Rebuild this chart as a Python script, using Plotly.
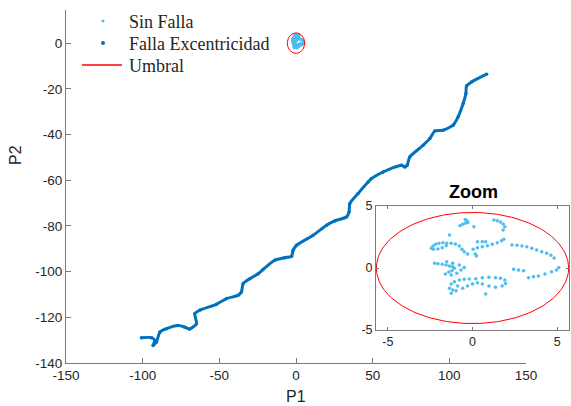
import numpy as np
import plotly.graph_objects as go

# ---------------- data ----------------
falla_p1 = [-100.8, -94.3, -92.1, -93.2, -91.0, -88.8, -84.5, -76.9, -72.5, -69.3,
            -64.9, -66.0, -62.8, -51.9, -45.3, -37.8, -35.6, -34.5, -30.1, -24.7,
            -21.5, -13.8, -7.3, -2.9, -1.9, 0.3, 11.2, 19.9, 25.3, 32.9,
            34.6, 35.1, 40.5, 47.0, 49.2, 56.8, 68.8, 71.0, 72.5, 74.2,
            82.9, 87.3, 90.5, 96.0, 102.5, 105.7, 109.0, 110.8, 111.2, 114.5, 124.3]
falla_p2 = [-128.9, -128.9, -130.1, -132.3, -130.8, -126.5, -125.0, -123.6, -124.3, -125.1,
            -122.8, -118.4, -116.9, -114.3, -111.8, -110.4, -108.9, -105.3, -103.1, -100.9,
            -99.1, -95.0, -93.9, -93.3, -90.7, -88.5, -84.1, -79.7, -77.8, -76.1,
            -73.9, -70.2, -65.8, -60.8, -59.3, -56.4, -53.4, -54.2, -53.4, -49.8,
            -44.7, -41.7, -38.5, -38.1, -35.9, -32.3, -26.4, -22.0, -18.8, -17.0, -13.6]

sin_p1 = [-0.74, -0.58, -0.43, -0.27, -0.43, -0.33, 0.08,
          1.26, 1.46, 1.65, 1.81, 1.91, 1.81,
          -1.36,
          -2.43, -2.33, -2.18, -1.98, -1.75, -1.52, -1.56, -1.79, -2.04, -2.30,
          -1.26, -1.01, -0.78, -0.62, -0.49, -0.29, 0.16, 0.23,
          0.04, 0.29, 0.58, 0.88, 1.17, 1.46, 1.71, 1.85,
          0.29, 0.58, 0.78,
          2.33, 2.63, 2.92, 3.21, 3.50, 3.79, 4.09, 4.38, 4.63, 4.82,
          2.43, 2.72, 3.02, 3.31, 3.60, 3.89, 4.28, 4.67, 4.96, 5.10,
          -2.24, -2.04, -1.79, -1.56, -1.36, -1.17, -1.07, -1.21, -1.40, -1.60,
          -1.26, -0.93, -0.68, -0.49, -0.78, -1.17, -1.52,
          -1.36, -1.26, -1.07, -0.78, -0.49, -0.19, 0.19, 0.58, 0.97, 1.36,
          1.65, 1.91, 1.95, 1.75, 1.36, 0.97, 0.58, 0.29, 0.0, -0.29,
          -0.58, -0.97, -1.26, -1.17, -0.88, 0.78]
sin_p2 = [3.41, 3.52, 3.60, 3.66, 3.92, 3.82, 3.33,
          3.87, 3.82, 3.71, 3.55, 3.33, 3.06,
          2.66,
          1.59, 1.77, 1.91, 1.99, 2.04, 1.99, 1.80, 1.64, 1.53, 1.51,
          1.99, 1.94, 1.77, 1.51, 1.32, 1.13, 1.13, 0.97,
          1.51, 1.64, 1.72, 1.80, 1.91, 2.04, 2.20, 2.31,
          2.12, 2.12, 2.12,
          1.85, 1.83, 1.77, 1.72, 1.59, 1.45, 1.32, 1.18, 1.02, 0.81,
          -0.11, -0.16, -0.22, -0.78, -0.70, -0.65, -0.48, -0.30, -0.16, 0.05,
          0.38, 0.35, 0.30, 0.24, 0.16, 0.11, -0.03, -0.22, -0.32, -0.48,
          -0.56, -0.43, -0.16, 0.05, 0.24, 0.38, 0.51,
          -1.64, -1.29, -1.10, -0.97, -0.91, -0.89, -0.86, -0.78, -0.75, -0.78,
          -0.83, -0.97, -1.24, -1.45, -1.56, -1.45, -1.29, -1.18, -1.29, -1.45,
          -1.64, -1.83, -2.04, -1.77, -1.45, -2.10]

umbral_a = 5.68   # semi-axis along P1
umbral_b = 4.48   # semi-axis along P2

x_ticks = [-150, -100, -50, 0, 50, 100, 150]
x_ticktext = ["-150", "-100", "-50", "0", "50", "100", "150"]
y_ticks = [-140, -120, -100, -80, -60, -40, -20, 0]
y_ticktext = ["-140", "-120", "-100", "-80", "-60", "-40", "-20", "0"]
zoom_ticks = [-5, 0, 5]
zoom_ticktext = ["-5", "0", "5"]

legend_names = ["Sin Falla", "Falla Excentricidad", "Umbral"]

theta = np.linspace(0, 2 * np.pi, 241)
umbral_x = umbral_a * np.cos(theta)
umbral_y = umbral_b * np.sin(theta)

# ---------------- style ----------------
C_FALLA = "#0072BD"
C_SIN = "#4DBEEE"
C_UMBRAL = "#FF0000"
AX = "#7a7a7a"
TXT = "#262626"
SANS = "Liberation Sans, Arial, sans-serif"
SERIF = "Liberation Serif, Times New Roman, serif"

# figure pixel frame: plot area left 66, right 570, top 10, bottom 363
PL, PW, PB, PH = 66, 504, 363, 353
MAIN_R = 526
def px(x):
    return (x - PL) / PW
def py(y):
    return (PB - y) / PH

fig = go.Figure()

# main axes
fig.add_trace(go.Scatter(x=sin_p1, y=sin_p2, mode="markers", name=legend_names[0],
                         marker=dict(color=C_SIN, size=3), xaxis="x", yaxis="y"))
fig.add_trace(go.Scatter(x=falla_p1, y=falla_p2, mode="lines", showlegend=False,
                         line=dict(color=C_FALLA, width=3, shape="spline", smoothing=0.6),
                         xaxis="x", yaxis="y", hoverinfo="skip"))
fig.add_trace(go.Scatter(x=falla_p1, y=falla_p2, mode="markers", name=legend_names[1],
                         marker=dict(color=C_FALLA, size=3.5), xaxis="x", yaxis="y"))
fig.add_trace(go.Scatter(x=umbral_x, y=umbral_y, mode="lines", name=legend_names[2],
                         line=dict(color=C_UMBRAL, width=1), xaxis="x", yaxis="y"))

# inset axes
fig.add_trace(go.Scatter(x=sin_p1, y=sin_p2, mode="markers", showlegend=False,
                         marker=dict(color=C_SIN, size=3.5), xaxis="x2", yaxis="y2"))
fig.add_trace(go.Scatter(x=umbral_x, y=umbral_y, mode="lines", showlegend=False,
                         line=dict(color=C_UMBRAL, width=1), xaxis="x2", yaxis="y2"))

# legend keys drawn on a hidden overlay axis whose units are page pixels
fig.add_trace(go.Scatter(x=[103], y=[21], mode="markers", showlegend=False, hoverinfo="skip",
                         marker=dict(color=C_SIN, size=3), xaxis="x3", yaxis="y3"))
fig.add_trace(go.Scatter(x=[103], y=[43], mode="markers", showlegend=False, hoverinfo="skip",
                         marker=dict(color=C_FALLA, size=4), xaxis="x3", yaxis="y3"))
fig.add_trace(go.Scatter(x=[82, 122], y=[65, 65], mode="lines", showlegend=False,
                         hoverinfo="skip", line=dict(color="red", width=1.6),
                         xaxis="x3", yaxis="y3"))

common = dict(showgrid=False, zeroline=False, showline=True, linecolor=AX, linewidth=1,
              ticks="inside", ticklen=5, tickcolor=AX, automargin=False,
              tickfont=dict(family=SANS, size=13.5, color=TXT))
inset = {**common, "ticklen": 3, "tickfont": dict(family=SANS, size=12.5, color=TXT)}
hidden = dict(visible=False, showgrid=False, zeroline=False, fixedrange=True)

legend_y = [22, 44, 66]
annotations = [
    dict(text=name, xref="paper", yref="paper", x=px(127), y=py(yy),
         xanchor="left", yanchor="middle", showarrow=False,
         font=dict(family=SERIF, size=18, color=TXT))
    for name, yy in zip(legend_names, legend_y)
]
annotations += [
    dict(text="P1", xref="paper", yref="paper", x=px(296), y=py(396),
         xanchor="center", yanchor="middle",
         showarrow=False, font=dict(family=SANS, size=16, color=TXT)),
    dict(text="P2", xref="paper", yref="paper", x=px(15), y=py(155), textangle=-90,
         xanchor="center", yanchor="middle",
         showarrow=False, font=dict(family=SANS, size=16, color=TXT)),
    dict(text="<b>Zoom</b>", xref="paper", yref="paper", x=px(473), y=py(192),
         xanchor="center", yanchor="middle",
         showarrow=False, font=dict(family=SANS, size=18, color="black")),
]

fig.update_layout(
    width=571, height=406, autosize=False,
    margin=dict(l=66, r=1, t=10, b=43, autoexpand=False),
    paper_bgcolor="white", plot_bgcolor="white",
    xaxis=dict(domain=[0, px(MAIN_R)], range=[-150, 150], tickvals=x_ticks,
               ticktext=x_ticktext, anchor="y", **common),
    yaxis=dict(domain=[0, 1], range=[-140, 14.5], tickvals=y_ticks,
               ticktext=y_ticktext, anchor="x", **common),
    xaxis2=dict(domain=[px(376), px(569)], range=[-5.7, 5.7], tickvals=zoom_ticks,
                ticktext=zoom_ticktext, anchor="y2", mirror="ticks", **inset),
    yaxis2=dict(domain=[py(330), py(206)], range=[-5, 5], tickvals=zoom_ticks,
                ticktext=zoom_ticktext, anchor="x2", mirror="ticks", **inset),
    xaxis3=dict(overlaying="x", range=[PL, MAIN_R], anchor="y3", **hidden),
    yaxis3=dict(overlaying="y", range=[PB, PB - PH], anchor="x3", **hidden),
    showlegend=False,
    annotations=annotations,
)

fig.write_html("out.html")
